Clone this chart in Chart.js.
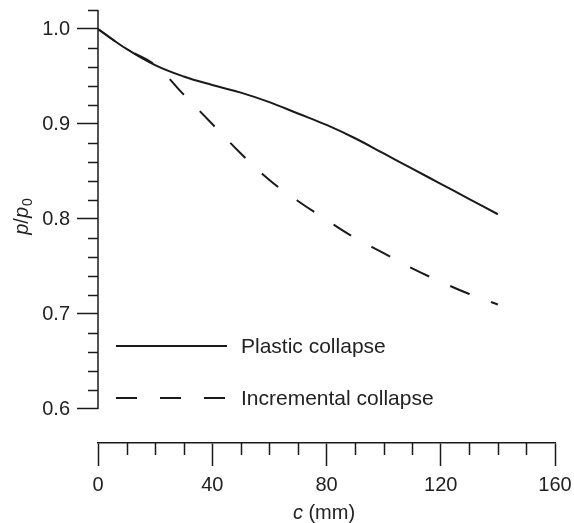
<!DOCTYPE html>
<html lang="en">
<head>
    <meta charset="UTF-8">
    <title>p/p0 vs c</title>
    <script src="https://cdn.jsdelivr.net/npm/chart.js"></script>
    <style>
        body {
            margin: 0;
            background: #fff;
        }
        canvas {
            display: block;
        }
    </style>
</head>
<body>
    <canvas id="collapse-chart" width="574" height="523"></canvas>

    <script>
        // values
        const cValues = [0, 10, 20, 30, 40, 50, 60, 70, 80, 90, 100, 110, 120, 130, 140];
        const plasticValues = [1.0, 0.979, 0.962, 0.950, 0.941, 0.933, 0.923, 0.911, 0.899, 0.885, 0.869, 0.853, 0.837, 0.821, 0.805];
        const incrementalValues = [1.0, 0.979, 0.962, 0.931, 0.900, 0.869, 0.841, 0.819, 0.799, 0.780, 0.764, 0.748, 0.734, 0.721, 0.710];
        const seriesNames = ['Plastic collapse', 'Incremental collapse'];
        const xTickValues = [0, 40, 80, 120, 160];
        const yTickValues = [0.6, 0.7, 0.8, 0.9, 1.0];

        const ink = '#1a1a1a';
        const fontFamily = '"Liberation Sans", Arial, Helvetica, sans-serif';

        function toPoints(values) {
            return values.map((v, i) => ({ x: cValues[i], y: v }));
        }

        // minor ticks, the short y axis line, legend and axis titles
        const decorations = {
            id: 'decorations',
            afterDraw(chart) {
                const ctx = chart.ctx;
                const xs = chart.scales.x;
                const ys = chart.scales.y;
                const area = chart.chartArea;
                ctx.save();
                ctx.strokeStyle = ink;
                ctx.lineWidth = 1.5;

                // y axis line from 0.6 up to the top
                ctx.beginPath();
                ctx.moveTo(area.left, ys.getPixelForValue(0.6));
                ctx.lineTo(area.left, ys.getPixelForValue(1.02));
                ctx.stroke();

                // y minor ticks every 0.02
                for (let k = 30; k <= 51; k++) {
                    if (k % 5 === 0) continue;
                    const py = Math.round(ys.getPixelForValue(k / 50)) + 0.5;
                    ctx.beginPath();
                    ctx.moveTo(area.left - 10, py);
                    ctx.lineTo(area.left, py);
                    ctx.stroke();
                }

                // x minor ticks every 10
                for (let c = 10; c < 160; c += 10) {
                    if (c % 40 === 0) continue;
                    const px = Math.round(xs.getPixelForValue(c)) + 0.5;
                    ctx.beginPath();
                    ctx.moveTo(px, area.bottom);
                    ctx.lineTo(px, area.bottom + 12);
                    ctx.stroke();
                }

                // legend
                const rows = [346, 398];
                chart.data.datasets.forEach((ds, i) => {
                    ctx.strokeStyle = ds.borderColor;
                    ctx.lineWidth = ds.borderWidth;
                    ctx.setLineDash(ds.borderDash || []);
                    ctx.beginPath();
                    ctx.moveTo(116, rows[i]);
                    ctx.lineTo(227, rows[i]);
                    ctx.stroke();
                    ctx.setLineDash([]);
                    ctx.fillStyle = '#222';
                    ctx.font = '21px ' + fontFamily;
                    ctx.textBaseline = 'middle';
                    ctx.textAlign = 'left';
                    ctx.fillText(ds.label, 241, rows[i] + 1);
                });

                // x title: c (mm)
                ctx.fillStyle = '#222';
                ctx.textBaseline = 'alphabetic';
                ctx.textAlign = 'left';
                const italic = 'italic 20px ' + fontFamily;
                const normal = '20px ' + fontFamily;
                ctx.font = italic;
                const wc = ctx.measureText('c').width;
                ctx.font = normal;
                const wRest = ctx.measureText(' (mm)').width;
                let tx = 324 - (wc + wRest) / 2;
                ctx.font = italic;
                ctx.fillText('c', tx, 519);
                ctx.font = normal;
                ctx.fillText(' (mm)', tx + wc, 519);

                // y title: p/p0
                ctx.translate(22, 217);
                ctx.rotate(-Math.PI / 2);
                const sub = '14px ' + fontFamily;
                ctx.font = italic;
                const wp = ctx.measureText('p').width;
                ctx.font = normal;
                const ws = ctx.measureText('/').width;
                ctx.font = sub;
                const w0 = ctx.measureText('0').width;
                let ty = -(wp * 2 + ws + w0) / 2;
                ctx.textBaseline = 'alphabetic';
                ctx.font = italic;
                ctx.fillText('p', ty, 6);
                ctx.font = normal;
                ctx.fillText('/', ty + wp, 6);
                ctx.font = italic;
                ctx.fillText('p', ty + wp + ws, 6);
                ctx.font = sub;
                ctx.fillText('0', ty + wp * 2 + ws + 1, 10);
                ctx.restore();
            }
        };

        const ctx = document.getElementById('collapse-chart').getContext('2d');
        new Chart(ctx, {
            type: 'line',
            data: {
                datasets: [{
                    label: seriesNames[0],
                    data: toPoints(plasticValues),
                    borderColor: ink,
                    borderWidth: 2,
                    pointRadius: 0,
                    tension: 0.4,
                    fill: false
                }, {
                    label: seriesNames[1],
                    data: toPoints(incrementalValues),
                    borderColor: ink,
                    borderWidth: 2,
                    borderDash: [21, 23],
                    pointRadius: 0,
                    tension: 0.4,
                    fill: false
                }]
            },
            options: {
                responsive: false,
                animation: false,
                layout: {
                    padding: { left: 0, right: 19, top: 10, bottom: 0 }
                },
                plugins: {
                    legend: { display: false },
                    tooltip: { enabled: false }
                },
                scales: {
                    x: {
                        type: 'linear',
                        min: 0,
                        max: 160,
                        afterBuildTicks: s => { s.ticks = xTickValues.map(v => ({ value: v })); },
                        afterFit: s => { s.height = 80; s.paddingLeft = 0; s.paddingRight = 0; },
                        border: { display: true, color: ink, width: 1.5 },
                        grid: { drawOnChartArea: false, drawTicks: true, tickLength: 23, tickColor: ink, tickWidth: 1.5 },
                        ticks: {
                            padding: 7,
                            color: '#222',
                            font: { family: fontFamily, size: 20 },
                            maxRotation: 0,
                            autoSkip: false
                        }
                    },
                    y: {
                        type: 'linear',
                        min: 0.5642,
                        max: 1.02,
                        afterBuildTicks: s => { s.ticks = yTickValues.map(v => ({ value: v })); },
                        afterFit: s => { s.width = 98; s.paddingTop = 0; s.paddingBottom = 0; },
                        border: { display: false },
                        grid: { drawOnChartArea: false, drawTicks: true, tickLength: 21, tickColor: ink, tickWidth: 1.5 },
                        ticks: {
                            padding: 7,
                            color: '#222',
                            font: { family: fontFamily, size: 20 },
                            callback: v => v.toFixed(1)
                        }
                    }
                }
            },
            plugins: [decorations]
        });
    </script>
</body>
</html>
